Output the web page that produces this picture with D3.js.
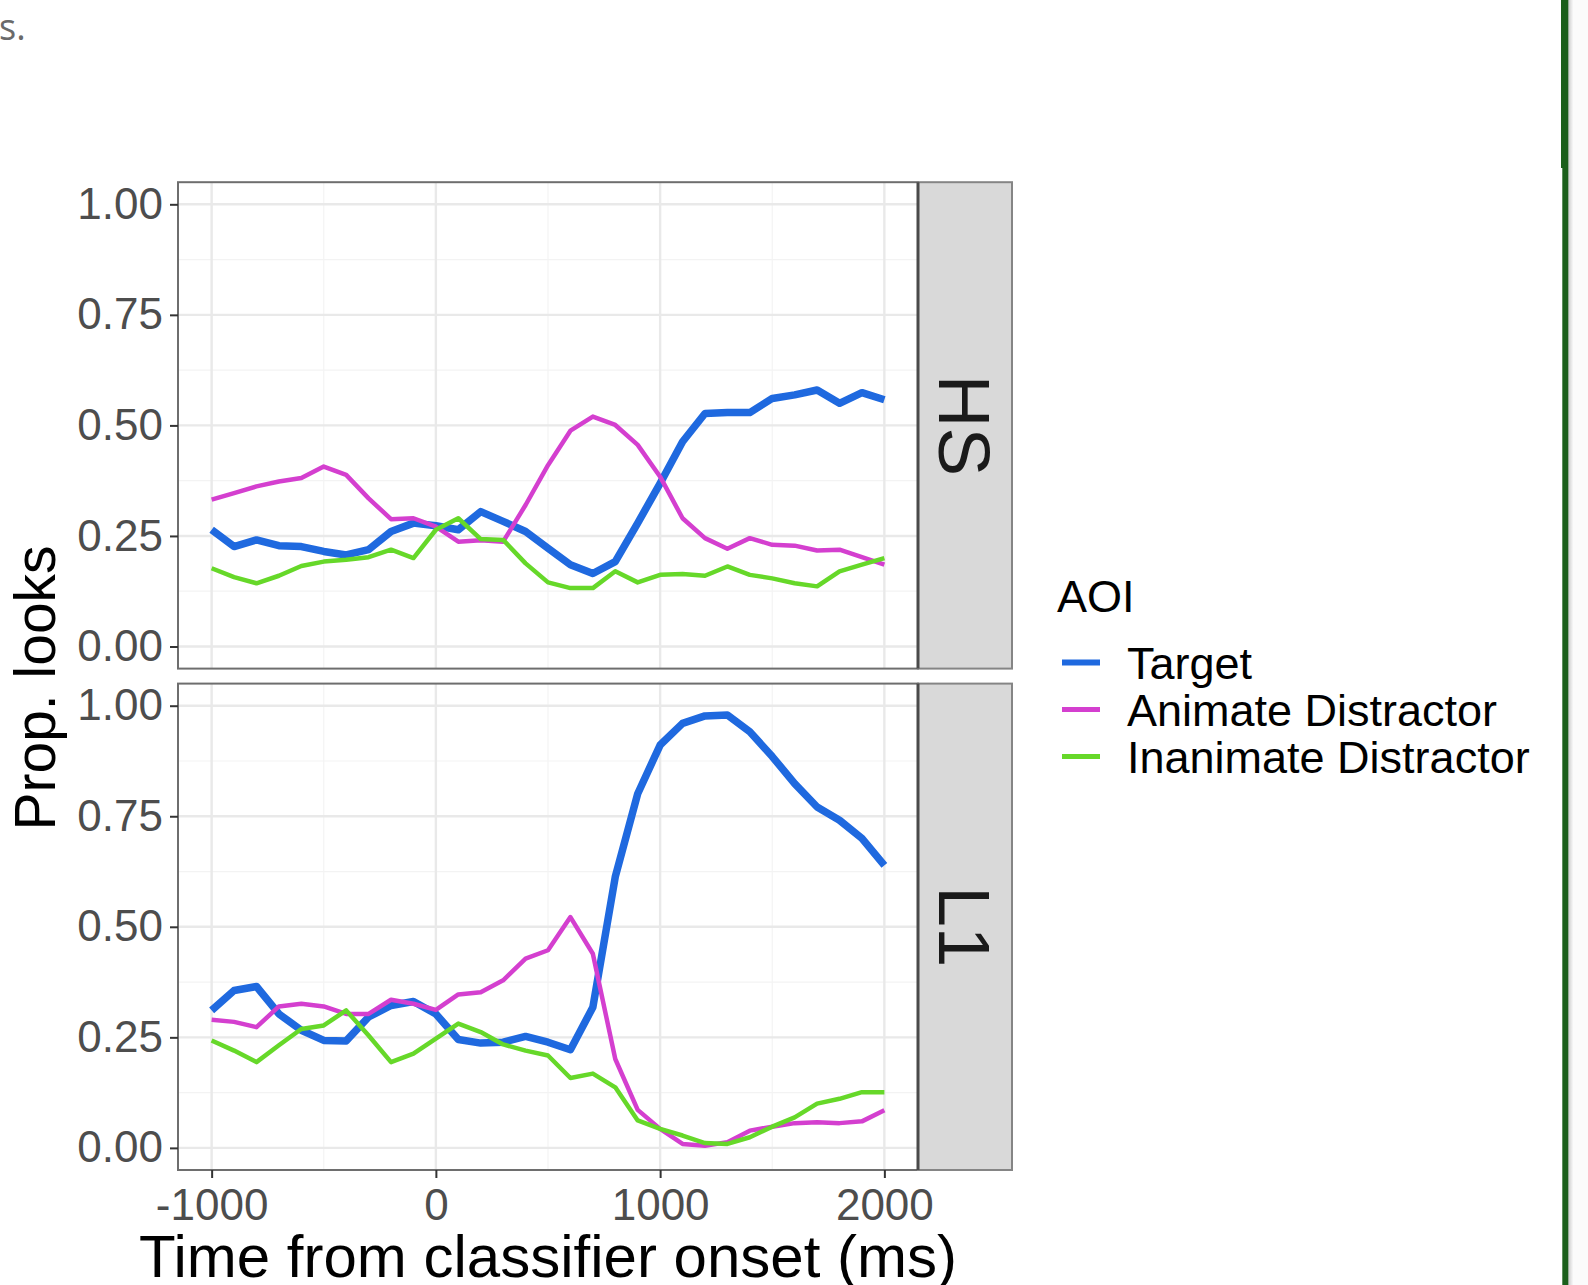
<!DOCTYPE html>
<html>
<head>
<meta charset="utf-8">
<script src="https://cdn.jsdelivr.net/npm/d3@7"></script>
<style>
    html, body { margin: 0; padding: 0; background: #fff; }
    #chart svg { display: block; font-family: "Liberation Sans", Arial, Helvetica, sans-serif; }
</style>
</head>
<body>
<div id="chart"></div>
<script>
// Time points (ms from classifier onset)
const times = [-1000, -900, -800, -700, -600, -500, -400, -300, -200, -100,
    0, 100, 200, 300, 400, 500, 600, 700, 800, 900,
    1000, 1100, 1200, 1300, 1400, 1500, 1600, 1700, 1800, 1900, 2000];

// Proportion of looks, HS group
const hsTarget = [0.264, 0.226, 0.241, 0.228, 0.226, 0.215, 0.207, 0.219, 0.260, 0.279,
    0.273, 0.264, 0.305, 0.283, 0.260, 0.222, 0.185, 0.165, 0.192, 0.279,
    0.369, 0.463, 0.527, 0.529, 0.529, 0.561, 0.569, 0.580, 0.550, 0.574, 0.558];
const hsAnimate = [0.332, 0.347, 0.362, 0.373, 0.381, 0.407, 0.388, 0.335, 0.288, 0.290,
    0.271, 0.237, 0.240, 0.237, 0.320, 0.410, 0.488, 0.520, 0.501, 0.456,
    0.384, 0.290, 0.245, 0.221, 0.245, 0.230, 0.228, 0.217, 0.219, 0.202, 0.185];
const hsInanimate = [0.177, 0.157, 0.143, 0.160, 0.182, 0.192, 0.196, 0.202, 0.219, 0.200,
    0.264, 0.290, 0.243, 0.241, 0.188, 0.145, 0.132, 0.132, 0.170, 0.145,
    0.162, 0.164, 0.160, 0.181, 0.162, 0.154, 0.143, 0.136, 0.170, 0.185, 0.200];

// Proportion of looks, L1 group
const l1Target = [0.311, 0.356, 0.365, 0.303, 0.266, 0.243, 0.242, 0.296, 0.322, 0.331,
    0.303, 0.245, 0.237, 0.239, 0.252, 0.239, 0.222, 0.318, 0.613, 0.801,
    0.911, 0.960, 0.977, 0.979, 0.941, 0.885, 0.824, 0.771, 0.741, 0.700, 0.639];
const l1Animate = [0.290, 0.285, 0.273, 0.320, 0.326, 0.320, 0.303, 0.303, 0.335, 0.326,
    0.312, 0.347, 0.352, 0.379, 0.428, 0.447, 0.522, 0.439, 0.201, 0.086,
    0.043, 0.009, 0.005, 0.013, 0.039, 0.048, 0.056, 0.058, 0.056, 0.060, 0.085];
const l1Inanimate = [0.243, 0.220, 0.194, 0.232, 0.269, 0.277, 0.311, 0.254, 0.194, 0.213,
    0.247, 0.281, 0.262, 0.234, 0.220, 0.209, 0.158, 0.168, 0.137, 0.062,
    0.043, 0.028, 0.011, 0.009, 0.024, 0.048, 0.069, 0.100, 0.111, 0.126, 0.126];

// Categories and ticks
const groups = ["HS", "L1"];
const aoiLabels = ["Target", "Animate Distractor", "Inanimate Distractor"];
const xTicks = [-1000, 0, 1000, 2000];
const xMinorTicks = [-500, 500, 1500];
const yTicks = [0, 0.25, 0.5, 0.75, 1];
const yMinorTicks = [0.125, 0.375, 0.625, 0.875];

// Styles
const aoiColors = ["#1f69df", "#d43fcf", "#66d829"];
const aoiWidths = [7.5, 4.5, 4.5];

const width = 1588;
const height = 1285;

let svg = null;
let x = null;

/**
 * Builds the whole figure: page leftovers, panels, axes and legend.
 */
function setupChart() {
    svg = d3.select("#chart")
        .append("svg")
        .attr("width", width)
        .attr("height", height);

    drawPageFrame();

    x = d3.scaleLinear()
        .domain([-1150, 2150])
        .range([178, 918]);

    const seriesByGroup = [
        [hsTarget, hsAnimate, hsInanimate],
        [l1Target, l1Animate, l1Inanimate]
    ];
    const panelTops = [182.2, 683.6];
    const panelHeight = 486.4;

    groups.forEach((g, i) => {
        drawPanel(g, seriesByGroup[i], panelTops[i], panelHeight, i === groups.length - 1);
    });

    // Axis titles
    svg.append("text")
        .attr("x", 548)
        .attr("y", 1277)
        .attr("text-anchor", "middle")
        .style("font-size", "60px")
        .style("fill", "#000")
        .text("Time from classifier onset (ms)");

    svg.append("text")
        .attr("transform", "translate(55, 688) rotate(-90)")
        .attr("text-anchor", "middle")
        .style("font-size", "57px")
        .style("fill", "#000")
        .text("Prop. looks");

    drawLegend();
}

/**
 * Draws one facet panel with its grid, lines, border, strip and axes.
 */
function drawPanel(name, series, top, h, withXAxis) {
    const y = d3.scaleLinear()
        .domain([-0.05, 1.05])
        .range([top + h, top]);
    const left = x.range()[0];
    const right = x.range()[1];

    const panel = svg.append("g").attr("class", "panel");

    panel.append("rect")
        .attr("x", left).attr("y", top)
        .attr("width", right - left).attr("height", h)
        .attr("fill", "#fff");

    // Minor grid
    panel.selectAll(".ygrid-minor")
        .data(yMinorTicks).enter().append("line")
        .attr("x1", left).attr("x2", right)
        .attr("y1", d => y(d)).attr("y2", d => y(d))
        .attr("stroke", "#f3f3f3").attr("stroke-width", 1.2);
    panel.selectAll(".xgrid-minor")
        .data(xMinorTicks).enter().append("line")
        .attr("y1", top).attr("y2", top + h)
        .attr("x1", d => x(d)).attr("x2", d => x(d))
        .attr("stroke", "#f3f3f3").attr("stroke-width", 1.2);

    // Major grid
    panel.selectAll(".ygrid")
        .data(yTicks).enter().append("line")
        .attr("x1", left).attr("x2", right)
        .attr("y1", d => y(d)).attr("y2", d => y(d))
        .attr("stroke", "#e9e9e9").attr("stroke-width", 2.4);
    panel.selectAll(".xgrid")
        .data(xTicks).enter().append("line")
        .attr("y1", top).attr("y2", top + h)
        .attr("x1", d => x(d)).attr("x2", d => x(d))
        .attr("stroke", "#e9e9e9").attr("stroke-width", 2.4);

    // Data lines, drawn in AOI order
    const line = d3.line()
        .x((d, i) => x(times[i]))
        .y(d => y(d));

    series.forEach((values, k) => {
        panel.append("path")
            .datum(values)
            .attr("d", line)
            .attr("fill", "none")
            .attr("stroke", aoiColors[k])
            .attr("stroke-width", aoiWidths[k])
            .attr("stroke-linejoin", "round");
    });

    // Panel border
    panel.append("rect")
        .attr("x", left).attr("y", top)
        .attr("width", right - left).attr("height", h)
        .attr("fill", "none")
        .attr("stroke", "#6e6e6e").attr("stroke-width", 2);

    // Strip on the right
    const stripW = 94;
    panel.append("rect")
        .attr("x", right).attr("y", top)
        .attr("width", stripW).attr("height", h)
        .attr("fill", "#d9d9d9")
        .attr("stroke", "#858585").attr("stroke-width", 2);
    panel.append("line")
        .attr("x1", right).attr("x2", right)
        .attr("y1", top).attr("y2", top + h)
        .attr("stroke", "#4a4a4a").attr("stroke-width", 3);
    panel.append("text")
        .attr("transform", `translate(${right + stripW / 2}, ${top + h / 2}) rotate(90)`)
        .attr("text-anchor", "middle")
        .attr("dy", "0.36em")
        .style("font-size", "73px")
        .style("fill", "#1a1a1a")
        .text(name);

    // Y axis
    const yAxis = panel.append("g")
        .attr("transform", `translate(${left}, 0)`)
        .call(d3.axisLeft(y).tickValues(yTicks).tickFormat(d3.format(".2f"))
            .tickSize(8).tickPadding(7));
    styleAxis(yAxis);

    if (withXAxis) {
        // plain hyphen for negatives, as in the original
        const xAxis = panel.append("g")
            .attr("transform", `translate(0, ${top + h})`)
            .call(d3.axisBottom(x).tickValues(xTicks).tickFormat(d => String(d))
                .tickSize(8).tickPadding(11));
        styleAxis(xAxis);
    }
}

/**
 * ggplot-like look for an axis.
 */
function styleAxis(axis) {
    axis.select(".domain").remove();
    axis.selectAll(".tick line")
        .attr("stroke", "#333")
        .attr("stroke-width", 2);
    axis.selectAll(".tick text")
        .style("font-size", "44px")
        .style("font-family", "\"Liberation Sans\", Arial, sans-serif")
        .attr("fill", "#4d4d4d");
}

/**
 * Legend for the AOI colours.
 */
function drawLegend() {
    const legend = svg.append("g").attr("class", "legend");
    const rowY = [662.5, 709.5, 756.5];

    legend.append("text")
        .attr("x", 1057)
        .attr("y", 612)
        .style("font-size", "45px")
        .style("fill", "#000")
        .text("AOI");

    aoiLabels.forEach((label, i) => {
        legend.append("line")
            .attr("x1", 1062).attr("x2", 1100)
            .attr("y1", rowY[i]).attr("y2", rowY[i])
            .attr("stroke", aoiColors[i])
            .attr("stroke-width", i === 0 ? 6 : 5);
        legend.append("text")
            .attr("x", 1127)
            .attr("y", rowY[i])
            .attr("dy", "0.36em")
            .style("font-size", "45px")
            .style("fill", "#000")
            .text(label);
    });
}

/**
 * Bits of the surrounding page: cut text top left and the green bar on the right.
 */
function drawPageFrame() {
    svg.append("text")
        .attr("x", -1)
        .attr("y", 40)
        .style("font-family", "\"Open Sans\", sans-serif")
        .style("font-size", "36px")
        .style("fill", "#6a6a6a")
        .text("s.");

    const shadow = svg.append("defs").append("linearGradient")
        .attr("id", "barShadow");
    shadow.append("stop").attr("offset", "0%").attr("stop-color", "#c8c8c8");
    shadow.append("stop").attr("offset", "100%").attr("stop-color", "#f8f8f8");

    svg.append("rect")
        .attr("x", 1568).attr("y", 0)
        .attr("width", 20).attr("height", height)
        .attr("fill", "#fbfbfb");
    svg.append("rect")
        .attr("x", 1568).attr("y", 0)
        .attr("width", 5).attr("height", height)
        .attr("fill", "url(#barShadow)");
    svg.append("rect")
        .attr("x", 1561).attr("y", 0)
        .attr("width", 7.3).attr("height", 168)
        .attr("fill", "#1b5f1b");
    svg.append("rect")
        .attr("x", 1562.3).attr("y", 168)
        .attr("width", 6).attr("height", height - 168)
        .attr("fill", "#1b5f1b");
}

setupChart();
</script>
</body>
</html>
